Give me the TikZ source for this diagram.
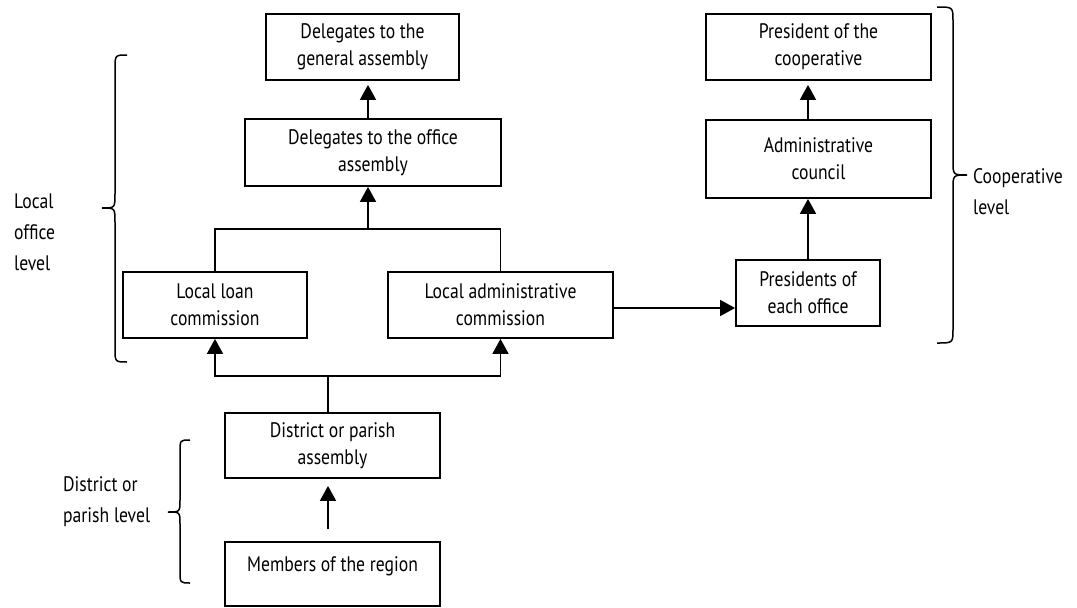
\documentclass[tikz,border=0pt]{standalone}
\usepackage{fontspec}
\setmainfont{PT Sans}[FakeStretch=0.84]
\usetikzlibrary{arrows.meta}
\newcommand\mybrace[7]{%
  \draw[brc] (#1,#4) .. controls (#2,#4) .. (#2,#4+#7) -- (#2,#5-#7)
    .. controls (#2,#5) .. (#3,#5) .. controls (#2,#5) .. (#2,#5+#7)
    -- (#2,#6-#7) .. controls (#2,#6) .. (#1,#6);}
\begin{document}
\begin{tikzpicture}[x=1pt,y=-1pt,
  font=\fontsize{21}{27}\selectfont,
  box/.style={draw, line width=1.8pt, align=center, inner sep=0pt},
  conn/.style={line width=1.8pt},
  arr/.style={conn, -{Triangle[length=15pt,width=16pt]}},
  brc/.style={line width=1.5pt},
  lbl/.style={align=left, inner sep=0pt, font=\fontsize{21}{31}\selectfont}]
\useasboundingbox (0,0) rectangle (1077,608);

% boxes
\node[box, minimum width=193pt, minimum height=66pt] (gen) at (362.5,47) {Delegates to the\\general assembly};
\node[box, minimum width=256pt, minimum height=67pt] (off) at (373,152.5) {Delegates to the office\\assembly};
\node[box, minimum width=184pt, minimum height=66pt] (loan) at (215,305) {Local loan\\commission};
\node[box, minimum width=225pt, minimum height=66pt] (adm) at (500.5,305) {Local administrative\\commission};
\node[box, minimum width=144pt, minimum height=66pt] (pres) at (808,293) {Presidents of\\each office};
\node[box, minimum width=225pt, minimum height=78pt] (council) at (818.5,159) {Administrative\\council};
\node[box, minimum width=225pt, minimum height=66pt] (coop) at (818.5,47) {President of the\\cooperative};
\node[box, minimum width=215pt, minimum height=65pt] (dist) at (332.5,445.5) {District or parish\\assembly};
\node[box, minimum width=215pt, minimum height=64pt] (mem) at (332.5,574) {Members of the region\\[-8pt]\mbox{}};

% junctions
\coordinate (j1) at (368,229);
\coordinate (j2) at (328,376);

% connectors
\draw[conn] (loan.north) |- (j1) -| (adm.north);
\draw[arr] (j1) -- (j1 |- off.south);
\draw[arr, shorten >=4pt] (off.north -| j1) -- (gen.south -| j1);
\draw[conn] (dist.north -| j2) -- (j2);
\draw[arr] (j2) -| (loan.south);
\draw[arr] (j2) -| (adm.south);
\draw[arr, shorten <=12pt, shorten >=7pt] (mem.north -| j2) -- (dist.south -| j2);
\draw[arr] ([yshift=-3pt]adm.east) -- ([yshift=-3pt]adm.east -| pres.west);
\draw[arr] (pres.north) -- (pres.north |- council.south);
\draw[arr, shorten >=4pt] (council.north -| pres.north) -- (coop.south -| pres.north);

% braces
\mybrace{127}{115}{102}{55}{208}{362}{14}
\mybrace{190}{180}{168}{440}{512}{583}{12}
\mybrace{937}{953}{967}{7}{175}{343}{14}

% level labels
\node[lbl, anchor=west] (lvl1) at (14,232) {Local\\office\\level};
\node[lbl, anchor=west] (lvl2) at (63,502) {District or\\parish level};
\node[lbl, anchor=west] (lvl3) at (973,192) {Cooperative\\level};
\end{tikzpicture}
\end{document}
